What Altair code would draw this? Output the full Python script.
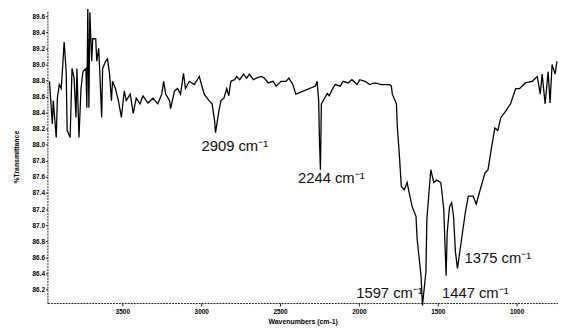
import altair as alt
import pandas as pd

# Spectrum trace (wavenumber in cm-1, % transmittance)
wavenumber = [3962, 3944, 3938, 3919, 3912, 3900, 3888, 3881, 3869, 3856, 3850, 3831, 3819, 3806, 3794,
              3788, 3775, 3762, 3750, 3731, 3725, 3719, 3712, 3706, 3694, 3688, 3669, 3662, 3650, 3644,
              3631, 3625, 3606, 3594, 3581, 3569, 3562, 3544, 3525, 3506, 3488, 3475, 3450, 3431, 3412,
              3388, 3369, 3338, 3306, 3275, 3250, 3238, 3225, 3200, 3194, 3169, 3150, 3131, 3112, 3100,
              3075, 3044, 3012, 2981, 2950, 2931, 2915, 2909, 2888, 2875, 2856, 2838, 2825, 2812, 2788,
              2775, 2756, 2731, 2712, 2694, 2669, 2650, 2619, 2600, 2575, 2544, 2525, 2494, 2462, 2444,
              2419, 2400, 2275, 2265, 2255, 2250, 2244, 2238, 2200, 2188, 2169, 2150, 2119, 2100, 2069,
              2044, 2012, 1994, 1962, 1931, 1900, 1856, 1806, 1794, 1788, 1762, 1756, 1744, 1731, 1712,
              1694, 1681, 1662, 1638, 1631, 1606, 1597, 1575, 1569, 1556, 1544, 1525, 1506, 1481, 1475,
              1462, 1447, 1440, 1425, 1412, 1400, 1388, 1375, 1355, 1325, 1306, 1275, 1256, 1231, 1200,
              1181, 1162, 1138, 1119, 1100, 1069, 1038, 1006, 981, 944, 900, 869, 850, 838, 819,
              800, 788, 775, 756, 744]
transmittance = [88.79, 88.26, 88.55, 88.09, 88.58, 88.75, 88.70, 88.89, 89.28, 88.91, 88.18, 88.09, 88.95, 88.83, 88.34,
                 88.95, 88.09, 88.70, 88.91, 88.95, 88.46, 89.69, 88.46, 89.65, 89.04, 89.32, 89.32, 89.04, 89.20, 88.95,
                 88.34, 88.95, 89.04, 89.07, 88.88, 88.55, 88.79, 88.70, 88.55, 88.34, 88.67, 88.55, 88.63, 88.39, 88.58,
                 88.51, 88.61, 88.52, 88.58, 88.51, 88.63, 88.79, 88.63, 88.55, 88.45, 88.67, 88.70, 88.63, 88.89, 88.70,
                 88.79, 88.75, 88.85, 88.63, 88.55, 88.51, 88.30, 88.15, 88.42, 88.55, 88.58, 88.70, 88.61, 88.79, 88.81,
                 88.85, 88.81, 88.88, 88.83, 88.88, 88.81, 88.83, 88.85, 88.83, 88.77, 88.79, 88.73, 88.79, 88.79, 88.83,
                 88.75, 88.63, 88.73, 88.79, 88.55, 88.05, 87.69, 88.51, 88.64, 88.61, 88.69, 88.75, 88.73, 88.79, 88.77,
                 88.81, 88.75, 88.81, 88.79, 88.75, 88.77, 88.75, 88.75, 88.73, 88.63, 88.51, 88.21, 87.89, 87.48, 87.44,
                 87.53, 87.40, 87.23, 87.11, 86.83, 86.37, 86.00, 86.42, 87.07, 87.40, 87.69, 87.53, 87.56, 87.53, 87.44,
                 87.20, 86.37, 86.91, 87.23, 87.28, 87.11, 86.67, 86.46, 86.74, 87.16, 87.36, 87.36, 87.26, 87.44, 87.65,
                 87.69, 87.93, 88.21, 88.18, 88.34, 88.42, 88.51, 88.70, 88.70, 88.77, 88.79, 88.85, 88.63, 88.88, 88.51,
                 88.91, 88.52, 89.00, 88.88, 89.04]

# Peak annotations
label_text = ["2909 cm⁻¹", "2244 cm⁻¹", "1597 cm⁻¹", "1447 cm⁻¹", "1375 cm⁻¹"]
label_wn = [2787, 2175, 1806, 1262, 1119]
label_t = [87.98, 87.58, 86.16, 86.16, 86.59]

x_ticks = [3500, 3000, 2500, 2000, 1500, 1000]
y_ticks = [86.2, 86.4, 86.6, 86.8, 87.0, 87.2, 87.4, 87.6, 87.8, 88.0,
           88.2, 88.4, 88.6, 88.8, 89.0, 89.2, 89.4, 89.6]

spec = pd.DataFrame({"wn": wavenumber, "t": transmittance})
ann = pd.DataFrame({"label": label_text, "wn": label_wn, "t": label_t})

x_scale = alt.Scale(domain=[737.5, 3975], reverse=True, nice=False, zero=False)
y_scale = alt.Scale(domain=[86.03, 89.674], nice=False, zero=False)

x_axis = alt.Axis(title="Wavenumbers (cm-1)", values=x_ticks, format="d",
                  labelFontSize=6.5, labelFontWeight="bold", labelFont="Liberation Sans",
                  titleFontSize=7, titleFontWeight="bold", titleFont="Liberation Sans",
                  tickSize=3, labelPadding=3, titlePadding=2, grid=False,
                  labelOverlap=False,
                  domainColor="#222", domainDash=[2, 1], tickColor="#222")
y_axis = alt.Axis(title="%Transmittance", values=y_ticks, format=".1f",
                  labelFontSize=6.5, labelFontWeight="bold", labelFont="Liberation Sans",
                  titleFontSize=7, titleFontWeight="bold", titleFont="Liberation Sans",
                  tickSize=2, labelPadding=1, titlePadding=13, grid=False,
                  labelOverlap=False,
                  domainColor="#222", domainDash=[2, 1], tickColor="#222")

line = alt.Chart(spec).mark_line(color="black", strokeWidth=1.3).encode(
    x=alt.X("wn:Q", scale=x_scale, axis=x_axis),
    y=alt.Y("t:Q", scale=y_scale, axis=y_axis),
)

labels = alt.Chart(ann).mark_text(fontSize=15, font="Liberation Sans", color="#111",
                                  align="center", baseline="middle").encode(
    x=alt.X("wn:Q", scale=x_scale, axis=x_axis),
    y=alt.Y("t:Q", scale=y_scale, axis=y_axis),
    text="label:N",
)

chart = alt.layer(line, labels).properties(
    width=518, height=297,
    background="white",
    autosize=alt.AutoSizeParams(type="none"),
    padding={"left": 40, "top": 0, "right": 0, "bottom": 24},
).configure_view(strokeWidth=0).configure_axis(labelOverlap=False)

chart.save("out.html", embed_options={"renderer": "svg", "actions": False})
